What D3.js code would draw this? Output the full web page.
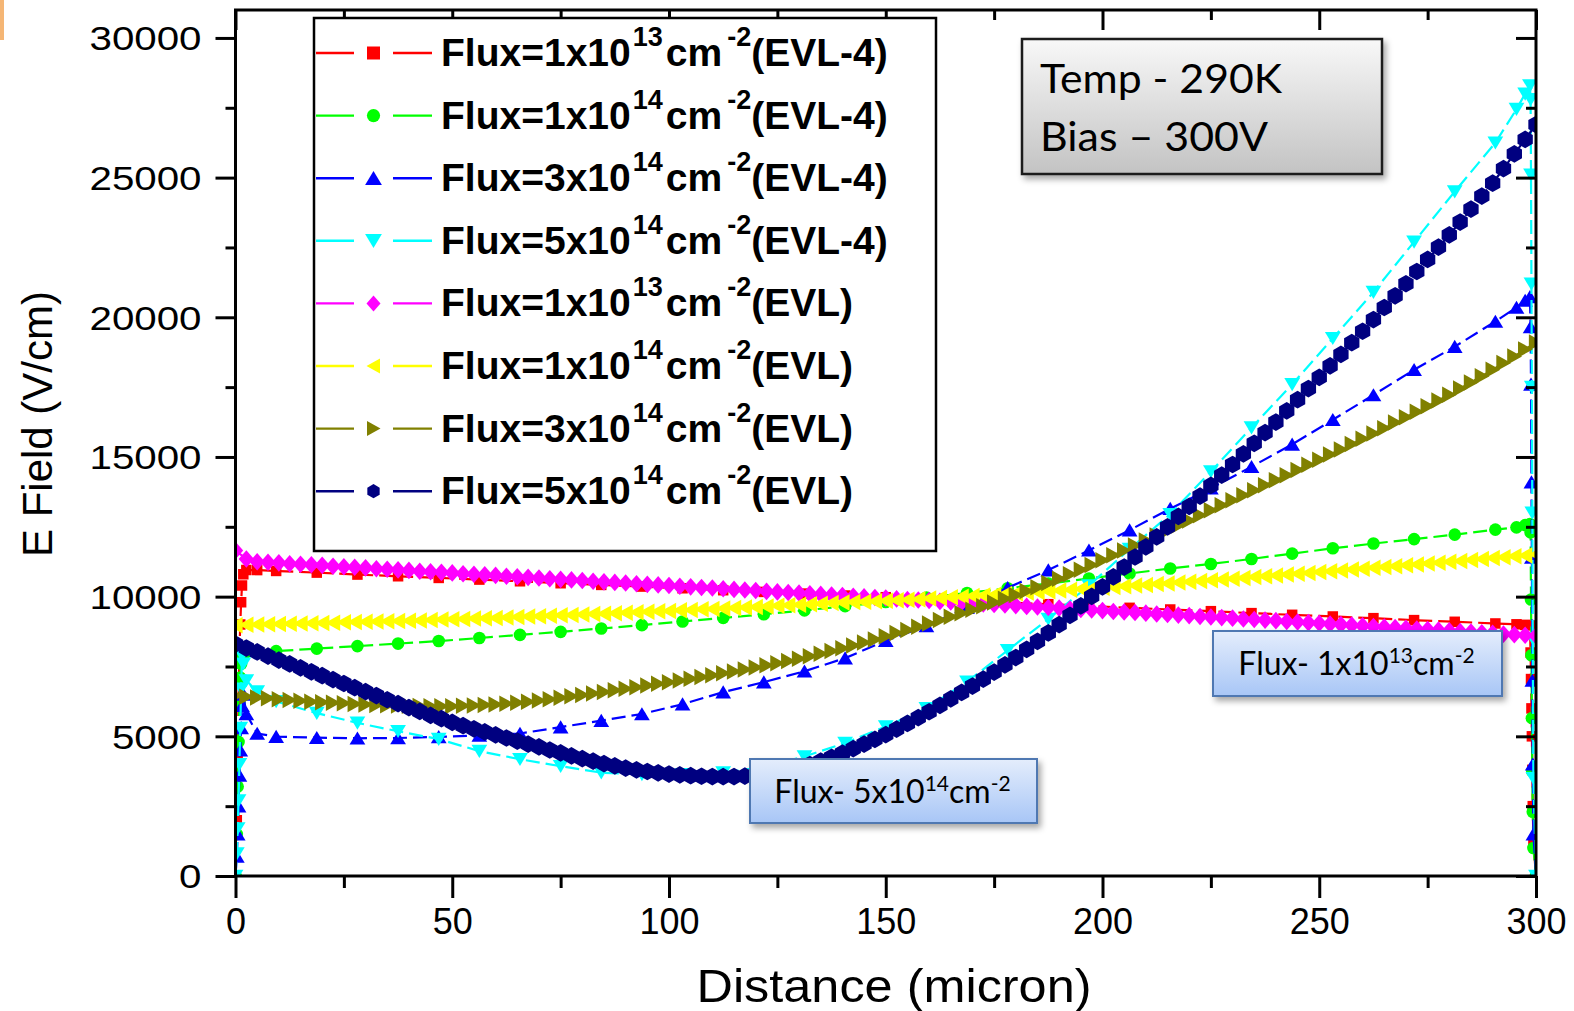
<!DOCTYPE html>
<html><head><meta charset="utf-8">
<script src="https://cdn.jsdelivr.net/npm/d3@7"></script>
<style>html,body{margin:0;padding:0;background:#fff;overflow:hidden}</style>
</head><body>
<svg id="chart" width="1574" height="1011"></svg>
<script>
// ---------------- DATA ----------------
const xTicks = [0, 50, 100, 150, 200, 250, 300];
const xMinorTicks = [25, 75, 125, 175, 225, 275];
const yTicks = [0, 5000, 10000, 15000, 20000, 25000, 30000];
const yMinorTicks = [2500, 7500, 12500, 17500, 22500, 27500];

// EVL-4 simulation grid (sparse markers)
const xEVL4 = [9.375,18.75,28.125,37.5,46.875,56.25,65.625,75,84.375,93.75,103.125,112.5,121.875,131.25,140.625,150,159.375,168.75,178.125,187.5,196.875,206.25,215.625,225,234.375,243.75,253.125,262.5,271.875,281.25,290.625];
const edgeLeftX  = [0, 0.3, 0.5, 0.7, 0.9, 1.1, 1.3, 1.5, 1.8, 2.5, 5];
const edgeRightX = [295.5, 297.5, 298.6, 298.75, 298.85, 298.95, 299.05, 299.15, 299.25, 299.4, 300];

const redMain   = [10920,10860,10790,10730,10670,10610,10550,10480,10420,10360,10300,10230,10170,10110,10040,9980,9920,9850,9790,9730,9670,9600,9540,9480,9410,9350,9290,9230,9160,9100,9040];
const redLeft   = [0,2000,4200,6300,8000,9000,9800,10400,10800,10950,10950];
const redRight  = [9010,8990,8970,8000,7050,6000,5000,3800,2500,1200,0];

const greenMain = [8050,8140,8230,8320,8410,8520,8630,8740,8860,8980,9110,9240,9370,9510,9660,9810,9970,10130,10300,10470,10650,10830,11010,11170,11350,11540,11730,11900,12060,12220,12400];
const greenLeft = [0,1500,3200,4800,6200,7100,7600,7900,8000,8020,8030];
const greenRight= [12480,12560,12600,12300,9900,7900,5650,3750,2300,1000,0];

const blueMain  = [4990,4950,4930,4940,4980,5030,5100,5330,5560,5800,6150,6580,6940,7330,7800,8420,8950,9600,10320,10950,11660,12380,13150,13880,14650,15450,16330,17220,18120,18950,19850];
const blueLeft  = [0,700,1500,2500,3600,4500,5300,6100,6500,5800,5100];
const blueRight = [20350,20600,20730,19650,17600,14100,11400,7000,4000,1500,0];

const cyanMain  = [6250,5830,5480,5180,4900,4470,4180,3930,3700,3640,3640,3700,3900,4280,4760,5350,6000,6950,8080,9200,10400,11700,12950,14480,16050,17600,19250,20900,22700,24500,26250];
const cyanLeft  = [0,800,1700,2700,4000,5300,6700,7900,7600,7000,6600];
const cyanRight = [27450,28000,28300,27800,25100,21200,17500,13000,8500,3500,0];

// EVL simulation grid (dense markers, every 2.5 micron)
const xEVL = [0,2.5,5,7.5,10,12.5,15,17.5,20,22.5,25,27.5,30,32.5,35,37.5,40,42.5,45,47.5,50,52.5,55,57.5,60,62.5,65,67.5,70,72.5,75,77.5,80,82.5,85,87.5,90,92.5,95,97.5,100,102.5,105,107.5,110,112.5,115,117.5,120,122.5,125,127.5,130,132.5,135,137.5,140,142.5,145,147.5,150,152.5,155,157.5,160,162.5,165,167.5,170,172.5,175,177.5,180,182.5,185,187.5,190,192.5,195,197.5,200,202.5,205,207.5,210,212.5,215,217.5,220,222.5,225,227.5,230,232.5,235,237.5,240,242.5,245,247.5,250,252.5,255,257.5,260,262.5,265,267.5,270,272.5,275,277.5,280,282.5,285,287.5,290,292.5,295,297.5,300];

const magentaEVL = [11650,11350,11250,11230,11210,11180,11160,11140,11120,11090,
 11070,11050,11030,11000,10980,10960,10940,10910,10890,10870,
 10850,10820,10800,10780,10760,10730,10710,10690,10670,10640,
 10620,10600,10580,10550,10530,10510,10490,10460,10440,10420,
 10400,10370,10350,10330,10310,10280,10260,10240,10220,10190,
 10170,10150,10130,10100,10080,10060,10040,10010,9990,9970,
 9950,9920,9900,9880,9860,9830,9810,9790,9770,9740,
 9720,9700,9680,9650,9630,9610,9590,9560,9540,9520,
 9500,9470,9450,9430,9410,9380,9360,9340,9320,9290,
 9270,9250,9230,9200,9180,9160,9140,9110,9090,9070,
 9050,9020,9000,8980,8960,8930,8910,8890,8870,8840,
 8820,8800,8780,8750,8730,8710,8690,8660,8640,8620,
 8600];

const yellowEVL = [8980,8990,9000,9010,9020,9030,9040,9050,9060,9070,
 9080,9090,9100,9110,9120,9130,9140,9150,9165,9180,
 9190,9200,9215,9230,9240,9255,9270,9285,9300,9315,
 9330,9345,9360,9375,9390,9405,9420,9440,9455,9475,
 9490,9510,9525,9545,9560,9580,9595,9615,9630,9650,
 9670,9690,9710,9730,9750,9770,9790,9805,9820,9835,
 9850,9870,9890,9910,9930,9955,9975,10000,10020,10045,
 10070,10095,10120,10145,10170,10195,10220,10245,10270,10295,
 10320,10345,10370,10395,10420,10450,10475,10505,10530,10560,
 10585,10615,10640,10670,10700,10730,10760,10790,10820,10850,
 10880,10910,10940,10970,11000,11030,11060,11090,11120,11150,
 11185,11215,11250,11280,11315,11345,11380,11410,11445,11475,
 11510];

const oliveEVL = [6450,6420,6390,6360,6330,6300,6270,6240,6220,6200,
 6180,6160,6140,6125,6110,6100,6090,6085,6080,6078,
 6080,6090,6105,6120,6140,6170,6200,6240,6280,6330,
 6380,6430,6480,6535,6590,6645,6700,6760,6820,6880,
 6940,7000,7060,7125,7190,7255,7320,7390,7460,7540,
 7620,7700,7780,7870,7960,8055,8150,8255,8360,8470,
 8580,8695,8810,8925,9040,9160,9280,9405,9530,9660,
 9790,9925,10060,10200,10340,10490,10640,10800,10960,11130,
 11300,11480,11650,11830,12010,12190,12370,12550,12730,12910,
 13090,13270,13450,13630,13810,13990,14170,14350,14530,14720,
 14900,15090,15270,15460,15650,15840,16030,16230,16420,16620,
 16820,17020,17230,17450,17670,17890,18120,18360,18600,18850,
 19100];

const navyEVL = [8300,8160,8020,7870,7730,7590,7450,7310,7170,7030,
 6890,6740,6600,6460,6310,6170,6030,5890,5750,5630,
 5500,5380,5270,5160,5050,4940,4830,4720,4620,4510,
 4410,4300,4200,4110,4020,3940,3860,3800,3740,3690,
 3650,3620,3590,3570,3560,3555,3560,3575,3600,3650,
 3710,3790,3880,3990,4110,4250,4400,4560,4720,4890,
 5060,5260,5460,5670,5880,6110,6340,6570,6800,7050,
 7300,7560,7820,8110,8400,8700,9000,9330,9670,10010,
 10350,10710,11060,11420,11780,12140,12500,12870,13230,13600,
 13980,14350,14730,15110,15490,15870,16250,16650,17050,17450,
 17850,18260,18670,19090,19500,19920,20350,20770,21200,21640,
 22070,22510,22950,23410,23870,24340,24800,25320,25850,26370,
 26900];

const legendCoef = ["1", "1", "3", "5", "1", "1", "3", "5"];
const legendExp  = ["13", "14", "14", "14", "13", "14", "14", "14"];
const legendTag  = ["(EVL-4)", "(EVL-4)", "(EVL-4)", "(EVL-4)", "(EVL)", "(EVL)", "(EVL)", "(EVL)"];
const seriesColors = ["#ff0000", "#00ff00", "#0000ff", "#00ffff", "#ff00ff", "#ffff00", "#808000", "#000080"];
const seriesMarkers = ["square", "circle", "triUp", "triDown", "diamond", "triLeft", "triRight", "hexagon"];

// ---------------- SETUP ----------------
const svg = d3.select("#chart");
const defs = svg.append("defs");
const FONT = "'Liberation Sans', Arial, Helvetica, sans-serif";
const CAL = "Lato, 'Open Sans', sans-serif";

const gg = defs.append("linearGradient").attr("id", "grayGrad").attr("x1", 0).attr("y1", 0).attr("x2", 0).attr("y2", 1);
gg.append("stop").attr("offset", "0%").attr("stop-color", "#f8f8f8");
gg.append("stop").attr("offset", "100%").attr("stop-color", "#c3c3c3");
const bg = defs.append("linearGradient").attr("id", "blueGrad").attr("x1", 0).attr("y1", 0).attr("x2", 0).attr("y2", 1);
bg.append("stop").attr("offset", "0%").attr("stop-color", "#e4edfc");
bg.append("stop").attr("offset", "100%").attr("stop-color", "#a8c6f6");
const shadow = defs.append("filter").attr("id", "shadow").attr("x", "-10%").attr("y", "-10%").attr("width", "130%").attr("height", "140%");
shadow.append("feDropShadow").attr("dx", 3).attr("dy", 4).attr("stdDeviation", 3).attr("flood-color", "#000").attr("flood-opacity", 0.35);

const frame = {l: 235.5, r: 1536, t: 10, b: 876};
const x = d3.scaleLinear().domain([0, 300]).range([frame.l, frame.r]);
const y = d3.scaleLinear().domain([0, 31000]).range([frame.b, frame.t]);

defs.append("clipPath").attr("id", "plotClip").append("rect")
  .attr("x", frame.l).attr("y", frame.t).attr("width", frame.r - frame.l).attr("height", frame.b - frame.t);

// orange corner artefact
svg.append("rect").attr("x", 0).attr("y", 0).attr("width", 4).attr("height", 40).attr("fill", "#f3a453").attr("opacity", 0.8);

function markerPath(type, k) {
  switch (type) {
    case "square": return `M${-5*k},${-5*k}h${10*k}v${10*k}h${-10*k}Z`;
    case "circle": return d3.symbol(d3.symbolCircle, Math.PI * (6*k) * (6*k))();
    case "triUp": return `M0,${-6.5*k}L${7.5*k},${6*k}L${-7.5*k},${6*k}Z`;
    case "triDown": return `M0,${6.5*k}L${7.5*k},${-6*k}L${-7.5*k},${-6*k}Z`;
    case "diamond": return `M0,${-8*k}L${7*k},0L0,${8*k}L${-7*k},0Z`;
    case "triLeft": return `M${-7*k},0L${6.5*k},${-7.5*k}L${6.5*k},${7.5*k}Z`;
    case "triRight": return `M${7*k},0L${-6.5*k},${-7.5*k}L${-6.5*k},${7.5*k}Z`;
    case "hexagon": {
      const pts = d3.range(6).map(i => { const a = Math.PI / 3 * i + Math.PI / 6; return [7.5*k*Math.cos(a), 7.5*k*Math.sin(a)]; });
      return "M" + pts.map(p => p.join(",")).join("L") + "Z";
    }
  }
}
const legendMarkerScale = {square: 1.3, circle: 1.1, triUp: 1.12, triDown: 1.12, diamond: 1.0, triLeft: 1.0, triRight: 1.0, hexagon: 0.95};
const denseMarkerScale = {diamond: 1.1, triLeft: 1.1, triRight: 1.1, hexagon: 1.18};

// Build series
const evl4Sets = [
  [redLeft, redMain, redRight],
  [greenLeft, greenMain, greenRight],
  [blueLeft, blueMain, blueRight],
  [cyanLeft, cyanMain, cyanRight]
];
const evlSets = [magentaEVL, yellowEVL, oliveEVL, navyEVL];
const series = [];
evl4Sets.forEach((set, i) => {
  const xs = edgeLeftX.concat(xEVL4, edgeRightX);
  const vs = set[0].concat(set[1], set[2]);
  series.push({i, pts: xs.map((xv, j) => [xv, vs[j]]), dense: false});
});
evlSets.forEach((vs, k) => {
  series.push({i: 4 + k, pts: xEVL.map((xv, j) => [xv, vs[j]]), dense: true});
});

// ---------------- DATA LAYER ----------------
const plot = svg.append("g").attr("clip-path", "url(#plotClip)");
const line = d3.line().x(d => x(d[0])).y(d => y(d[1]));
series.forEach(s => {
  const c = seriesColors[s.i];
  const mk = seriesMarkers[s.i];
  const g = plot.append("g");
  g.append("path").datum(s.pts).attr("d", line).attr("fill", "none")
    .attr("stroke", c).attr("stroke-width", 2.2).attr("stroke-dasharray", "14,6");
  const mp = markerPath(mk, s.dense ? denseMarkerScale[mk] : 1.05);
  g.selectAll("path.m").data(s.pts).enter().append("path").attr("class", "m")
    .attr("d", mp).attr("transform", d => `translate(${x(d[0])},${y(d[1])})`)
    .attr("fill", c).attr("stroke", "none");
});

// ---------------- AXES ----------------
const axG = svg.append("g");
function styleAxis(g) {
  g.select(".domain").remove();
  g.selectAll(".tick line").attr("stroke", "#000").attr("stroke-width", 3);
}
const bottom = axG.append("g").attr("transform", `translate(0,${frame.b})`)
  .call(d3.axisBottom(x).tickValues(xTicks).tickSize(22).tickSizeOuter(0).tickFormat(d3.format("d")));
styleAxis(bottom);
bottom.selectAll("text").attr("y", 58).attr("dy", 0).attr("font-family", FONT).attr("font-size", 36).attr("fill", "#000");
axG.append("g").attr("transform", `translate(0,${frame.b})`)
  .call(d3.axisBottom(x).tickValues(xMinorTicks).tickSize(12).tickFormat("")).call(styleAxis);
axG.append("g").attr("transform", `translate(0,${frame.t})`)
  .call(d3.axisTop(x).tickValues(xTicks).tickSize(-20).tickFormat("")).call(styleAxis);
axG.append("g").attr("transform", `translate(0,${frame.t})`)
  .call(d3.axisTop(x).tickValues(xMinorTicks).tickSize(-10).tickFormat("")).call(styleAxis);
const left = axG.append("g").attr("transform", `translate(${frame.l},0)`)
  .call(d3.axisLeft(y).tickValues(yTicks).tickSize(20).tickSizeOuter(0).tickFormat(d3.format("d")));
styleAxis(left);
left.selectAll("text").attr("x", -34).attr("dy", "0.36em").attr("font-family", FONT).attr("font-size", 33).attr("fill", "#000")
  .attr("textLength", d => String(d).length * 22.4).attr("lengthAdjust", "spacingAndGlyphs");
axG.append("g").attr("transform", `translate(${frame.l},0)`)
  .call(d3.axisLeft(y).tickValues(yMinorTicks).tickSize(10).tickFormat("")).call(styleAxis);
axG.append("g").attr("transform", `translate(${frame.r},0)`)
  .call(d3.axisRight(y).tickValues(yTicks).tickSize(-20).tickFormat("")).call(styleAxis);
axG.append("g").attr("transform", `translate(${frame.r},0)`)
  .call(d3.axisRight(y).tickValues(yMinorTicks).tickSize(-10).tickFormat("")).call(styleAxis);
axG.append("rect").attr("x", frame.l).attr("y", frame.t).attr("width", frame.r - frame.l).attr("height", frame.b - frame.t)
  .attr("fill", "none").attr("stroke", "#000").attr("stroke-width", 3);

// axis titles
svg.append("text").attr("transform", "translate(52,424) rotate(-90)").attr("text-anchor", "middle")
  .attr("font-family", FONT).attr("font-size", 42).attr("fill", "#000").text("E Field (V/cm)");
svg.append("text").attr("x", 894).attr("y", 1002).attr("text-anchor", "middle")
  .attr("font-family", FONT).attr("font-size", 46).attr("fill", "#000")
  .attr("textLength", 395).attr("lengthAdjust", "spacingAndGlyphs").text("Distance (micron)");

// ---------------- LEGEND ----------------
const leg = svg.append("g");
leg.append("rect").attr("x", 314).attr("y", 18).attr("width", 622).attr("height", 533)
  .attr("fill", "#fff").attr("stroke", "#000").attr("stroke-width", 2.5);
legendCoef.forEach((coef, i) => {
  const cy = 53 + i * 62.6;
  const c = seriesColors[i];
  const mk = seriesMarkers[i];
  leg.append("line").attr("x1", 316).attr("x2", 354).attr("y1", cy).attr("y2", cy).attr("stroke", c).attr("stroke-width", 2.4);
  leg.append("line").attr("x1", 393).attr("x2", 432).attr("y1", cy).attr("y2", cy).attr("stroke", c).attr("stroke-width", 2.4);
  leg.append("path").attr("d", markerPath(mk, legendMarkerScale[mk])).attr("transform", `translate(373.5,${cy})`).attr("fill", c);
  const t = leg.append("text").attr("x", 441).attr("y", cy + 13).attr("font-family", FONT).attr("font-weight", "bold")
    .attr("font-size", 39).attr("fill", "#000");
  t.append("tspan").text(`Flux=${coef}x10`);
  t.append("tspan").attr("font-size", 27).attr("dx", 2).attr("dy", -20).text(legendExp[i]);
  t.append("tspan").attr("dx", 3).attr("dy", 20).text("cm");
  t.append("tspan").attr("font-size", 27).attr("dx", 5).attr("dy", -20).text("-2");
  t.append("tspan").attr("dy", 20).text(legendTag[i]);
});

// ---------------- ANNOTATIONS ----------------
const tb = svg.append("g");
tb.append("rect").attr("x", 1022).attr("y", 39).attr("width", 360).attr("height", 135)
  .attr("fill", "url(#grayGrad)").attr("stroke", "#1a1a1a").attr("stroke-width", 2.5).attr("filter", "url(#shadow)");
tb.append("text").attr("x", 1040).attr("y", 93).attr("font-family", CAL).attr("font-size", 41).attr("fill", "#000")
  .attr("textLength", 242).attr("lengthAdjust", "spacingAndGlyphs").text("Temp - 290K");
tb.append("text").attr("x", 1040).attr("y", 151).attr("font-family", CAL).attr("font-size", 41).attr("fill", "#000")
  .attr("textLength", 228).attr("lengthAdjust", "spacingAndGlyphs").text("Bias \u2013 300V");

function fluxBox(bx, by, bw, bh, coef, exp) {
  const g = svg.append("g");
  g.append("rect").attr("x", bx).attr("y", by).attr("width", bw).attr("height", bh)
    .attr("fill", "url(#blueGrad)").attr("stroke", "#4f78b2").attr("stroke-width", 2).attr("filter", "url(#shadow)");
  const t = g.append("text").attr("x", bx + bw / 2 - 1).attr("y", by + 44).attr("text-anchor", "middle")
    .attr("font-family", CAL).attr("font-size", 32).attr("fill", "#000");
  t.append("tspan").text(`Flux- ${coef}x10`);
  t.append("tspan").attr("font-size", 21).attr("dy", -12).text(exp);
  t.append("tspan").attr("dy", 12).text("cm");
  t.append("tspan").attr("font-size", 21).attr("dy", -12).text("-2");
}
fluxBox(1213, 631, 289, 65, "1", "13");
fluxBox(750, 759, 287, 64, "5", "14");
</script>
</body></html>
